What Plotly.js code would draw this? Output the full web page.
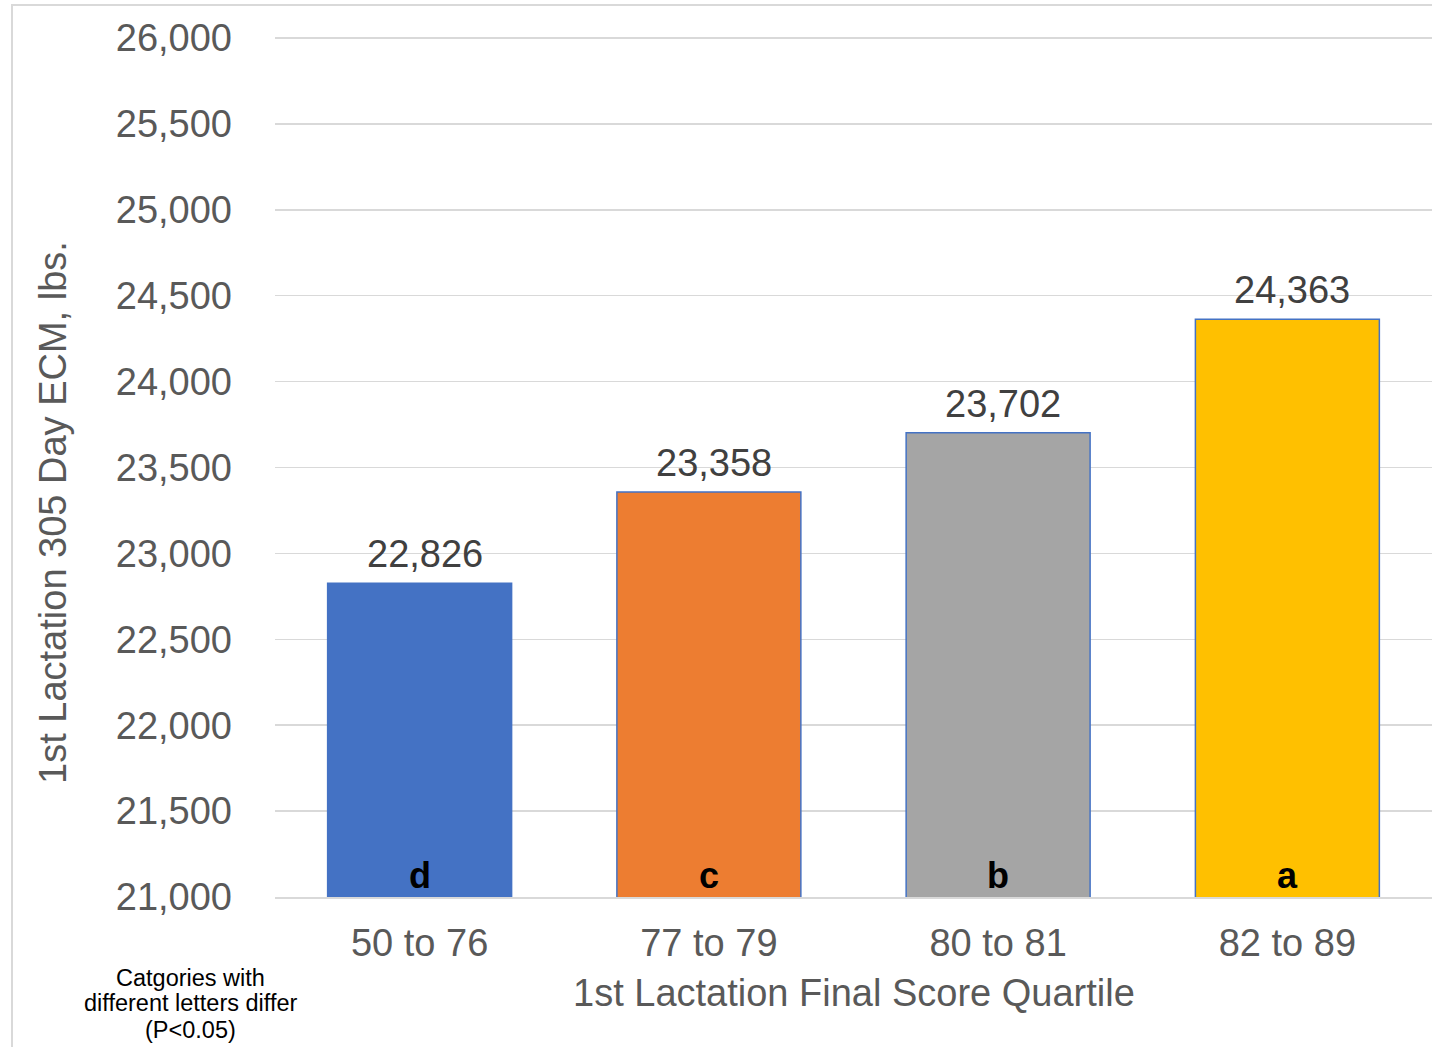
<!DOCTYPE html>
<html>
<head>
<meta charset="utf-8">
<script src="https://cdn.plot.ly/plotly-3.0.1.min.js"></script>
<style>
  html, body { margin: 0; padding: 0; background: #ffffff; overflow: hidden; }
  #frame { position: absolute; left: 11px; top: 4px; width: 1440px; height: 1060px;
           border-left: 2px solid #d9d9d9; border-top: 2px solid #d9d9d9; }
  #chart { position: absolute; left: 0; top: 0; width: 1432px; height: 1047px; }
</style>
</head>
<body>
<div id="frame"></div>
<div id="chart"></div>
<script>
const categories = ["50 to 76", "77 to 79", "80 to 81", "82 to 89"];
const ecmValues = [22826, 23358, 23702, 24363];
const letters = ["d", "c", "b", "a"];
const barColors = ["#4472C4", "#ED7D31", "#A5A5A5", "#FFC000"];
const yTicks = [21000, 21500, 22000, 22500, 23000, 23500, 24000, 24500, 25000, 25500, 26000];
const yTitle = "1st Lactation 305 Day ECM, lbs.";
const xTitle = "1st Lactation Final Score Quartile";
const footnoteLines = ["Catgories with", "different letters differ", "(P<0.05)"];

const textColor = "#595959";
const fontFam = "Liberation Sans, Arial, sans-serif";

const trace = {
  type: "bar",
  x: categories,
  y: ecmValues,
  marker: { color: barColors, line: { color: "#4472C4", width: 1.5 } },
  width: 0.636,
  hoverinfo: "none"
};

const annotations = [];
categories.forEach((c, i) => {
  annotations.push({
    x: c, y: ecmValues[i], xref: "x", yref: "y",
    text: ecmValues[i].toLocaleString("en-US"),
    showarrow: false, yanchor: "bottom", yshift: 6, xshift: 5,
    font: { family: fontFam, size: 38, color: "#404040" }
  });
  annotations.push({
    x: c, y: 21000, xref: "x", yref: "y",
    text: "<b>" + letters[i] + "</b>",
    showarrow: false, yanchor: "bottom", yshift: -1,
    font: { family: fontFam, size: 36, color: "#000000" }
  });
});
// paper coordinates: plot area spans y 37..897 px, x 275..1432 px
annotations.push({
  x: -0.1919, y: 0.4477, xref: "paper", yref: "paper",
  text: yTitle, textangle: -90, showarrow: false,
  xanchor: "center", yanchor: "middle",
  font: { family: fontFam, size: 38, color: textColor }
});
annotations.push({
  x: 0.5, y: -0.1116, xref: "paper", yref: "paper",
  text: xTitle, showarrow: false, xanchor: "center", yanchor: "middle",
  font: { family: fontFam, size: 38, color: textColor }
});
const footY = [-0.0942, -0.1233, -0.1547];
footnoteLines.forEach((t, i) => {
  annotations.push({
    x: -0.0730, y: footY[i], xref: "paper", yref: "paper",
    text: t, showarrow: false, xanchor: "center", yanchor: "middle",
    font: { family: fontFam, size: 23.5, color: "#000000" }
  });
});

const layout = {
  width: 1432, height: 1047,
  margin: { l: 275, r: 0, t: 37, b: 150, pad: 0 },
  paper_bgcolor: "rgba(0,0,0,0)",
  plot_bgcolor: "rgba(0,0,0,0)",
  showlegend: false,
  bargap: 0.364,
  font: { family: fontFam, color: textColor },
  xaxis: {
    type: "category",
    tickfont: { family: fontFam, size: 38, color: textColor },
    showgrid: false, zeroline: false,
    showline: true, linecolor: "#d9d9d9", linewidth: 1.5,
    ticks: "", ticklabelstandoff: 12
  },
  yaxis: {
    range: [21000, 26006],
    tickvals: yTicks,
    tickformat: ",d",
    tickfont: { family: fontFam, size: 38, color: textColor },
    gridcolor: "#d9d9d9", gridwidth: 1.5,
    zeroline: false, showline: false,
    ticks: "", ticklabelstandoff: 42
  },
  annotations: annotations
};

Plotly.newPlot("chart", [trace], layout, { displayModeBar: false, staticPlot: true });
</script>
</body>
</html>
